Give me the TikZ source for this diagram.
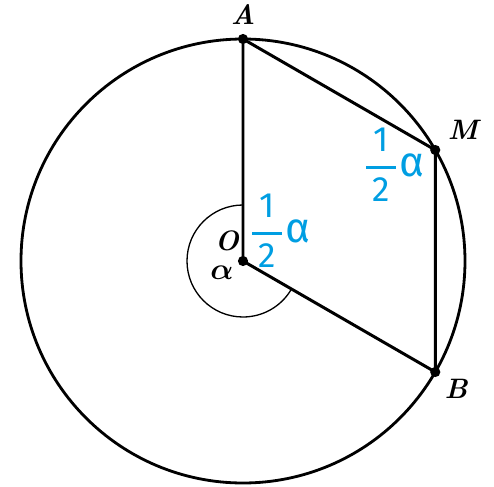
\documentclass[tikz,border=0pt]{standalone}
\usepackage{amsmath}
\usepackage{bm}
\usepackage{fontspec}
\newfontfamily\halffont{Fira Sans}
\definecolor{halfblue}{RGB}{0,158,226}
\newcommand{\halfalpha}{{\color{halfblue}\halffont\mdseries\upshape\fontsize{20}{22}\selectfont
  $\genfrac{}{}{1.4pt}{0}{\text{\halffont\mdseries\upshape\,1\,}}{\text{\halffont\mdseries\upshape\,2\,}}$\hspace{1pt}{\fontsize{24}{26}\selectfont α}}}

\begin{document}
\begin{tikzpicture}[x=0.02cm,y=0.02cm,font=\fontsize{16}{18}\selectfont\bfseries\itshape,
  pt/.style={circle,fill,inner sep=0pt,minimum size=5.8pt}]
                \useasboundingbox (-243,-226) rectangle (251,261);
                \coordinate (O) at (0,0);
                \coordinate (A) at (90:222);
                \coordinate (M) at (30:222);
                \coordinate (B) at (-30:222);
                \draw[line width=1.6pt] (O) circle (222);
                \draw[line width=0.75pt] (0,56) arc (90:330:56);
                \draw[line width=1.7pt] (A) -- (O) -- (B) -- (M) -- (A);
                \foreach \p in {O,A,M,B}{\node[pt] (d\p) at (\p) {};}
                \node (lA) at (0,246) {A};
                \node (lM) at (220,131) {M};
                \node (lB) at (213,-128) {B};
                \node (lO) at (-16,20) {O};
                \node (la) at (-21,-12) {$\bm{\alpha}$};
                \node[anchor=west,inner sep=0pt] (hO) at (7,30) {\halfalpha};
                \node[anchor=west,inner sep=0pt] (hM) at (121,96) {\halfalpha};
            \end{tikzpicture}
\end{document}
